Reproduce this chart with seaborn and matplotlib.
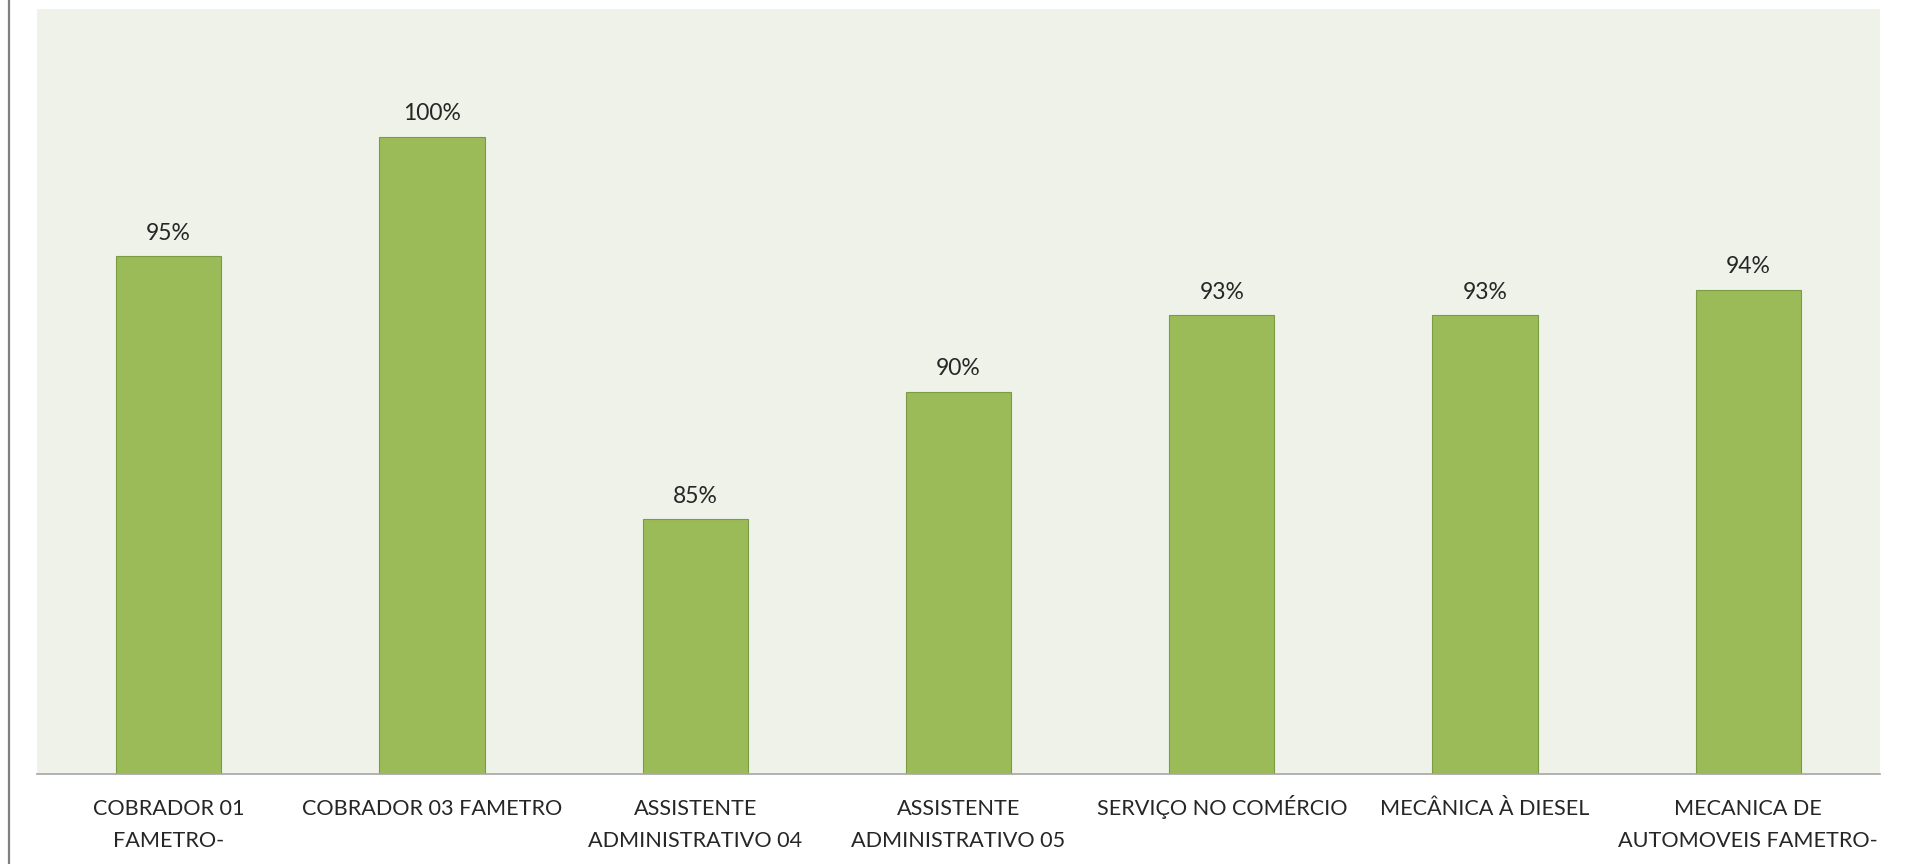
import pandas as pd
import seaborn as sns
import matplotlib.pyplot as plt
from matplotlib.lines import Line2D

cursos = ['COBRADOR 01\nFAMETRO-', 'COBRADOR 03 FAMETRO', 'ASSISTENTE\nADMINISTRATIVO 04',
          'ASSISTENTE\nADMINISTRATIVO 05', 'SERVIÇO NO COMÉRCIO', 'MECÂNICA À DIESEL',
          'MECANICA DE\nAUTOMOVEIS FAMETRO-']
aprovacao = [0.953, 1.00, 0.85, 0.90, 0.93, 0.93, 0.94]

df = pd.DataFrame({'Curso': cursos, 'Aprovacao': aprovacao})

sns.set_style('white')
plt.rcParams['font.family'] = ['Lato', 'DejaVu Sans']

fig = plt.figure(figsize=(19.05, 8.64), dpi=100)
ax = fig.add_axes([37 / 1905, 1 - 774.3 / 864, (1880 - 37) / 1905, (774.3 - 9) / 864])
ax.set_facecolor('#EEF2E9')

sns.barplot(x='Curso', y='Aprovacao', data=df, ax=ax, color='#9BBB59', saturation=1,
            width=0.40, edgecolor='#7A9A44', linewidth=0.8)

ax.set_ylim(0.75, 1.05)
ax.set_xlim(-0.5, len(cursos) - 0.5)
ax.bar_label(ax.containers[0], labels=[f'{v * 100:.0f}%' for v in aprovacao],
             padding=9, fontsize=16.5, color='#262626')

ax.set_xlabel('')
ax.set_ylabel('')
ax.set_yticks([])
# keep first lines on the same baseline: pad single-line labels with an empty line
ax.set_xticks(range(len(cursos)))
ax.set_xticklabels([c if '\n' in c else c + '\n' for c in cursos])
ax.tick_params(axis='x', length=0, pad=52, labelsize=15.6, labelcolor='#262626')
for lbl in ax.get_xticklabels():
    lbl.set_linespacing(1.75)
    lbl.set_verticalalignment('baseline')
for s in ['top', 'left', 'right']:
    ax.spines[s].set_visible(False)
ax.spines['bottom'].set_color('#A6A6A6')
ax.spines['bottom'].set_linewidth(1.2)

fig.add_artist(Line2D([9 / 1905, 9 / 1905], [0, 1], transform=fig.transFigure,
                      color='#808080', lw=1.6))

plt.savefig('out.png', dpi=100)
